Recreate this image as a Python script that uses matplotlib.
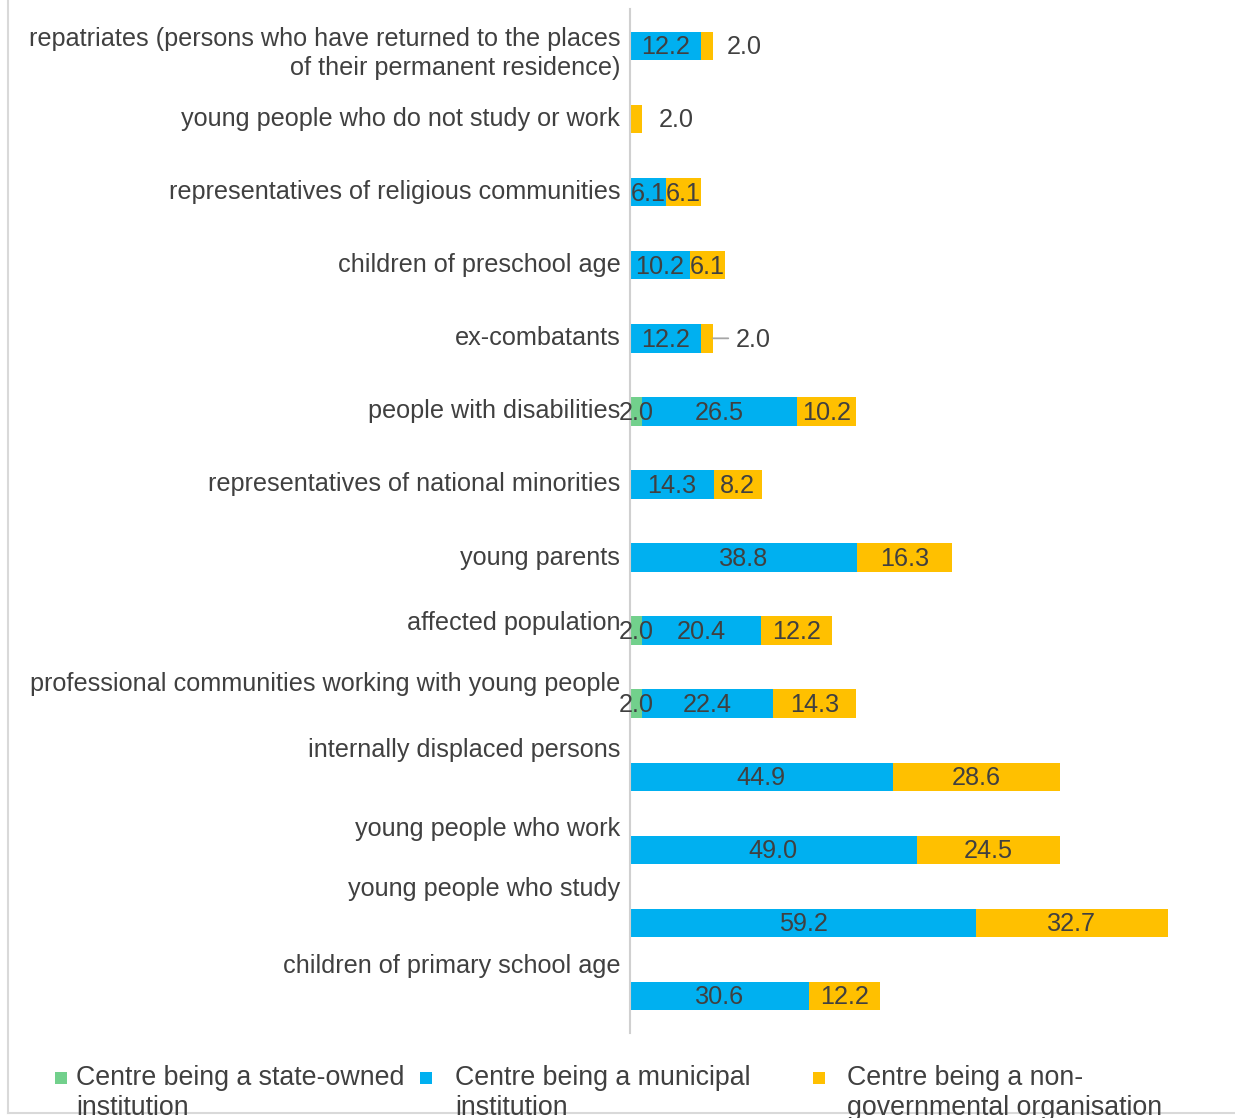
import matplotlib
matplotlib.use("Agg")
import matplotlib.pyplot as plt
from matplotlib.patches import Rectangle
from matplotlib.lines import Line2D

plt.rcParams['font.family'] = ['Liberation Sans', 'DejaVu Sans']

categories = [
    "repatriates (persons who have returned to the places\nof their permanent residence)",
    "young people who do not study or work",
    "representatives of religious communities",
    "children of preschool age",
    "ex-combatants",
    "people with disabilities",
    "representatives of national minorities",
    "young parents",
    "affected population",
    "professional communities working with young people",
    "internally displaced persons",
    "young people who work",
    "young people who study",
    "children of primary school age",
]
state_owned = [0, 0, 0, 0, 0, 2.0, 0, 0, 2.0, 2.0, 0, 0, 0, 0]
municipal = [12.2, 0, 6.1, 10.2, 12.2, 26.5, 14.3, 38.8, 20.4, 22.4, 44.9, 49.0, 59.2, 30.6]
ngo = [2.0, 2.0, 6.1, 6.1, 2.0, 10.2, 8.2, 16.3, 12.2, 14.3, 28.6, 24.5, 32.7, 12.2]

series_names = [
    "Centre being a state-owned\ninstitution",
    "Centre being a municipal\ninstitution",
    "Centre being a non-\ngovernmental organisation",
]
colors = ["#72d08c", "#00b0f0", "#ffc000"]

# vertical shift of each category label relative to its bar (in bar slots)
label_shift = [0.1, 0, 0, 0, 0, 0, 0, 0, -0.11, -0.27, -0.36, -0.29, -0.47, -0.41]

TXT = "#404040"
FS = 18.2
LEG_FS = 19.3

W, H = 1235, 1118
fig = plt.figure(figsize=(W / 100, H / 100), dpi=100)
ax = fig.add_axes([630 / W, 85.5 / H, 585 / W, 1023 / H])

ys = list(range(len(categories)))
bar_h = 0.39
left = [0.0] * len(categories)
for vals, col in zip([state_owned, municipal, ngo], colors):
    ax.barh(ys, vals, left=left, height=bar_h, color=col, linewidth=0)
    for i, v in enumerate(vals):
        if v <= 0:
            continue
        if col == colors[2] and v < 3:
            end = left[i] + v
            if categories[i] == "ex-combatants":
                ax.annotate("", xy=(end, i), xytext=(end + 2.6, i),
                            arrowprops=dict(arrowstyle="-", color="#a6a6a6", lw=1.3,
                                            shrinkA=0, shrinkB=0))
                ax.annotate(f"{v:.1f}", xy=(end, i), xytext=(16.5, -1),
                            textcoords="offset points", ha="left", va="center",
                            fontsize=FS, color=TXT)
            else:
                off = 10 if left[i] > 0 else 12
                ax.annotate(f"{v:.1f}", xy=(end, i), xytext=(off, -1),
                            textcoords="offset points", ha="left", va="center",
                            fontsize=FS, color=TXT)
        else:
            ax.annotate(f"{v:.1f}", xy=(left[i] + v / 2, i), xytext=(0, -1),
                        textcoords="offset points", ha="center", va="center",
                        fontsize=FS, color=TXT)
    left = [a + b for a, b in zip(left, vals)]

ax.set_xlim(0, 100)
ax.set_ylim(len(categories) - 0.5, -0.5)
ax.set_xticks([])
ax.set_yticks([])
for s in ["top", "right", "bottom"]:
    ax.spines[s].set_visible(False)
ax.spines["left"].set_color("#d0d0d0")
ax.spines["left"].set_linewidth(1.5)

for i, (lab, dy) in enumerate(zip(categories, label_shift)):
    ax.annotate(lab, xy=(0, i + dy), xytext=(-7, 0), textcoords="offset points",
                ha="right", va="center", fontsize=FS, color=TXT,
                multialignment="right", linespacing=1.25, annotation_clip=False)

# outer frame edges
fig.add_artist(Line2D([7.5 / W, 7.5 / W], [5 / H, 1.0], transform=fig.transFigure,
                      color="#d9d9d9", lw=1.5))
fig.add_artist(Line2D([7.5 / W, 1.0], [5 / H, 5 / H], transform=fig.transFigure,
                      color="#d9d9d9", lw=1.5))

# legend
leg_handle_x = [55, 420, 813]
leg_text_x = [76, 455, 847]
for hx, tx, name, col in zip(leg_handle_x, leg_text_x, series_names, colors):
    fig.add_artist(Rectangle((hx / W, (H - 1084) / H), 12 / W, 12 / H,
                             transform=fig.transFigure, color=col, lw=0))
    fig.text(tx / W, (H - 1065) / H, name, ha="left", va="top", fontsize=LEG_FS,
             color=TXT, linespacing=1.22)

fig.savefig("out.png", dpi=100)
